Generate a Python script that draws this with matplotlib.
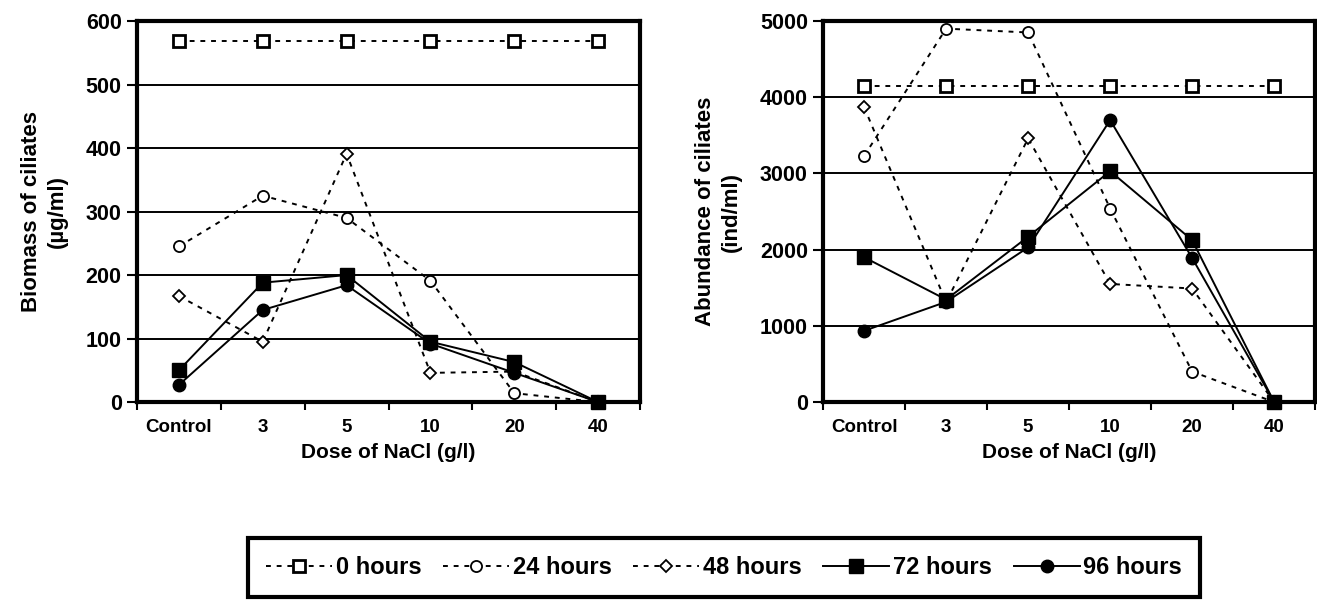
import matplotlib
matplotlib.use('Agg')
import matplotlib.pyplot as plt

plt.rcParams['font.family'] = ['Liberation Sans', 'DejaVu Sans']
plt.rcParams['font.weight'] = 'bold'

doses = ['Control', '3', '5', '10', '20', '40']

biomass_0h = [568, 568, 568, 568, 568, 568]
biomass_24h = [245, 325, 290, 191, 14, 0]
biomass_48h = [167, 95, 391, 46, 48, 0]
biomass_72h = [50, 188, 200, 95, 63, 0]
biomass_96h = [27, 145, 184, 92, 46, 0]

abund_0h = [4150, 4150, 4150, 4150, 4150, 4150]
abund_24h = [3230, 4900, 4850, 2540, 400, 0]
abund_48h = [3870, 1310, 3460, 1550, 1490, 0]
abund_72h = [1900, 1345, 2170, 3030, 2125, 0]
abund_96h = [935, 1315, 2030, 3700, 1890, 0]

labels = ['0 hours', '24 hours', '48 hours', '72 hours', '96 hours']

styles = [
    dict(ls=(0, (2.5, 3)), marker='s', mfc='white', ms=9, mew=2),
    dict(ls=(0, (2.5, 3)), marker='o', mfc='white', ms=8, mew=1.3),
    dict(ls=(0, (2.5, 3)), marker='D', mfc='white', ms=6, mew=1.3),
    dict(ls='-', marker='s', mfc='black', ms=10, mew=1),
    dict(ls='-', marker='o', mfc='black', ms=9, mew=1),
]


def draw_panel(ax, series, ymax, ystep, ylabel):
    x = range(len(doses))
    handles = []
    for vals, st, lab in zip(series, styles, labels):
        h, = ax.plot(x, vals, color='black', lw=1.4, mec='black', label=lab,
                     clip_on=False, zorder=3, **st)
        handles.append(h)
    ax.set_xlim(-0.5, len(doses) - 0.5)
    ax.set_ylim(0, ymax)
    ax.set_yticks(range(0, ymax + 1, ystep))
    ax.set_xticks([i - 0.5 for i in range(len(doses) + 1)])
    ax.set_xticks(list(x), minor=True)
    ax.set_xticklabels([])
    ax.set_xticklabels(doses, minor=True)
    ax.tick_params(axis='x', which='minor', length=0, pad=12, labelsize=13.5)
    ax.tick_params(axis='x', which='major', length=6, width=1.5, direction='out')
    ax.tick_params(axis='y', length=7, width=1.5, direction='out', labelsize=15.5, pad=4)
    for lab in ax.get_xticklabels(minor=True) + ax.get_yticklabels():
        lab.set_fontweight('bold')
    ax.grid(axis='y', color='black', lw=1.4)
    ax.set_axisbelow(True)
    for s in ax.spines.values():
        s.set_linewidth(3)
    ax.set_xlabel('Dose of NaCl (g/l)', fontsize=15, fontweight='bold', labelpad=5)
    ax.set_ylabel(ylabel, fontsize=16, fontweight='bold', labelpad=13, linespacing=1.3)
    return handles


fig = plt.figure(figsize=(13.17, 6.01), dpi=100)
ax1 = fig.add_axes([0.104, 0.331, 0.382, 0.634])
ax2 = fig.add_axes([0.625, 0.331, 0.3736, 0.634])

handles = draw_panel(ax1, [biomass_0h, biomass_24h, biomass_48h, biomass_72h, biomass_96h],
                     600, 100, 'Biomass of ciliates\n(µg/ml)')
draw_panel(ax2, [abund_0h, abund_24h, abund_48h, abund_72h, abund_96h],
           5000, 1000, 'Abundance of ciliates\n(ind/ml)')

leg = fig.legend(handles=handles, loc='center', bbox_to_anchor=(0.5497, 0.0555), ncol=5,
                 frameon=True, fancybox=False, edgecolor='black', framealpha=1,
                 handlelength=2.8, handletextpad=0.15, columnspacing=0.92,
                 borderpad=0.75, borderaxespad=0, prop={'weight': 'bold', 'size': 17})
leg.get_frame().set_linewidth(3)

fig.savefig('out.png', dpi=100)
